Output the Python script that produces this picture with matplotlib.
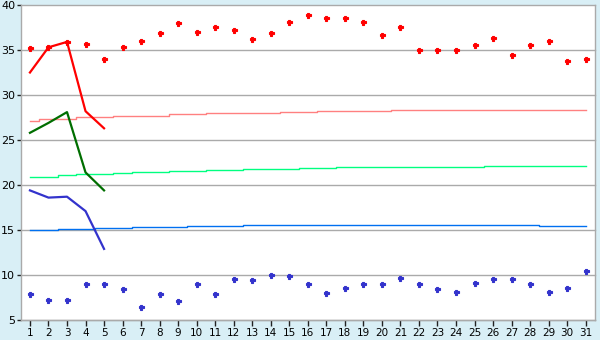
import matplotlib
matplotlib.use("Agg")
import matplotlib.pyplot as plt

# days of the month
days = list(range(1, 32))

# daily highs / lows (scatter points)
high_pts = [35.2, 35.3, 35.9, 35.7, 34.0, 35.3, 36.0, 36.9, 38.0, 37.0,
            37.5, 37.2, 36.2, 36.9, 38.1, 38.9, 38.6, 38.5, 38.1, 36.7,
            37.5, 35.0, 35.0, 35.0, 35.6, 36.3, 34.4, 35.6, 36.0, 33.8, 34.0]
low_pts = [7.9, 7.2, 7.2, 9.0, 9.0, 8.4, 6.4, 7.9, 7.1, 9.0,
           7.9, 9.6, 9.5, 10.0, 9.9, 9.0, 8.0, 8.6, 9.0, 9.0,
           9.7, 9.0, 8.5, 8.1, 9.1, 9.6, 9.6, 9.0, 8.1, 8.6, 10.4]

# first five days: measured curves
first_days = [1, 2, 3, 4, 5]
red_line = [32.5, 35.3, 35.9, 28.2, 26.3]
green_line = [25.8, 26.9, 28.1, 21.4, 19.4]
blue_line = [19.4, 18.6, 18.7, 17.1, 12.9]

# normals for the whole month
norm_high = [27.15, 27.33, 27.33, 27.52, 27.52, 27.67, 27.67, 27.67, 27.85, 27.85,
             27.96, 27.96, 27.96, 27.96, 28.07, 28.07, 28.18, 28.18, 28.18, 28.18,
             28.3, 28.3, 28.3, 28.3, 28.3, 28.3, 28.3, 28.3, 28.3, 28.3, 28.3]
norm_mid = [20.93, 20.93, 21.07, 21.19, 21.19, 21.3, 21.41, 21.41, 21.52, 21.52,
            21.63, 21.63, 21.74, 21.74, 21.74, 21.85, 21.85, 21.96, 21.96, 21.96,
            21.96, 21.96, 21.96, 21.96, 21.96, 22.07, 22.07, 22.07, 22.07, 22.07, 22.07]
norm_low = [15.0, 15.0, 15.08, 15.08, 15.19, 15.19, 15.3, 15.3, 15.3, 15.41,
            15.41, 15.41, 15.52, 15.52, 15.52, 15.52, 15.52, 15.52, 15.52, 15.52,
            15.52, 15.52, 15.52, 15.52, 15.52, 15.52, 15.52, 15.52, 15.41, 15.41, 15.41]

bg = '#d9eff6'
grid_col = '#aaaaaa'

fig = plt.figure(figsize=(6, 3.4), dpi=100)
fig.patch.set_facecolor(bg)
ax = fig.add_axes([0.0345, 0.0588, 0.957, 0.9265])
ax.set_facecolor('white')

# horizontal grid
for y in range(5, 41, 5):
    ax.axhline(y, color=grid_col, lw=1.0, zorder=1, clip_on=False)

# normals as stepped thin lines
ax.plot(days, norm_high, color='#ff8080', lw=1.0, drawstyle='steps-mid', zorder=2)
ax.plot(days, norm_mid, color='#00ff80', lw=1.0, drawstyle='steps-mid', zorder=2)
ax.plot(days, norm_low, color='#0070f0', lw=1.0, drawstyle='steps-mid', zorder=2)

# measured lines
ax.plot(first_days, red_line, color='#ff0000', lw=1.6, zorder=3)
ax.plot(first_days, green_line, color='#006e00', lw=1.6, zorder=3)
ax.plot(first_days, blue_line, color='#3333cc', lw=1.6, zorder=3)

# scatter points
ax.plot(days, high_pts, ls='none', marker='P', ms=3.6, color='#ff0000',
        markeredgewidth=0.8, zorder=4)
ax.plot(days, low_pts, ls='none', marker='P', ms=3.6, color='#3333cc',
        markeredgewidth=0.8, zorder=4)

ax.set_xlim(0.5, 31.5)
ax.set_ylim(5, 40)
ax.set_xticks(days)
ax.set_yticks(range(5, 41, 5))

for side in ['left', 'right', 'bottom']:
    ax.spines[side].set_color(grid_col)
    ax.spines[side].set_linewidth(1.0)
ax.spines['top'].set_visible(False)

ax.tick_params(axis='x', length=4, width=1, color='#222222', labelsize=7.5, pad=2)
ax.tick_params(axis='y', length=3, width=1, color='#222222', labelsize=8, pad=1)

fig.savefig('out.png', dpi=100, facecolor=bg)
